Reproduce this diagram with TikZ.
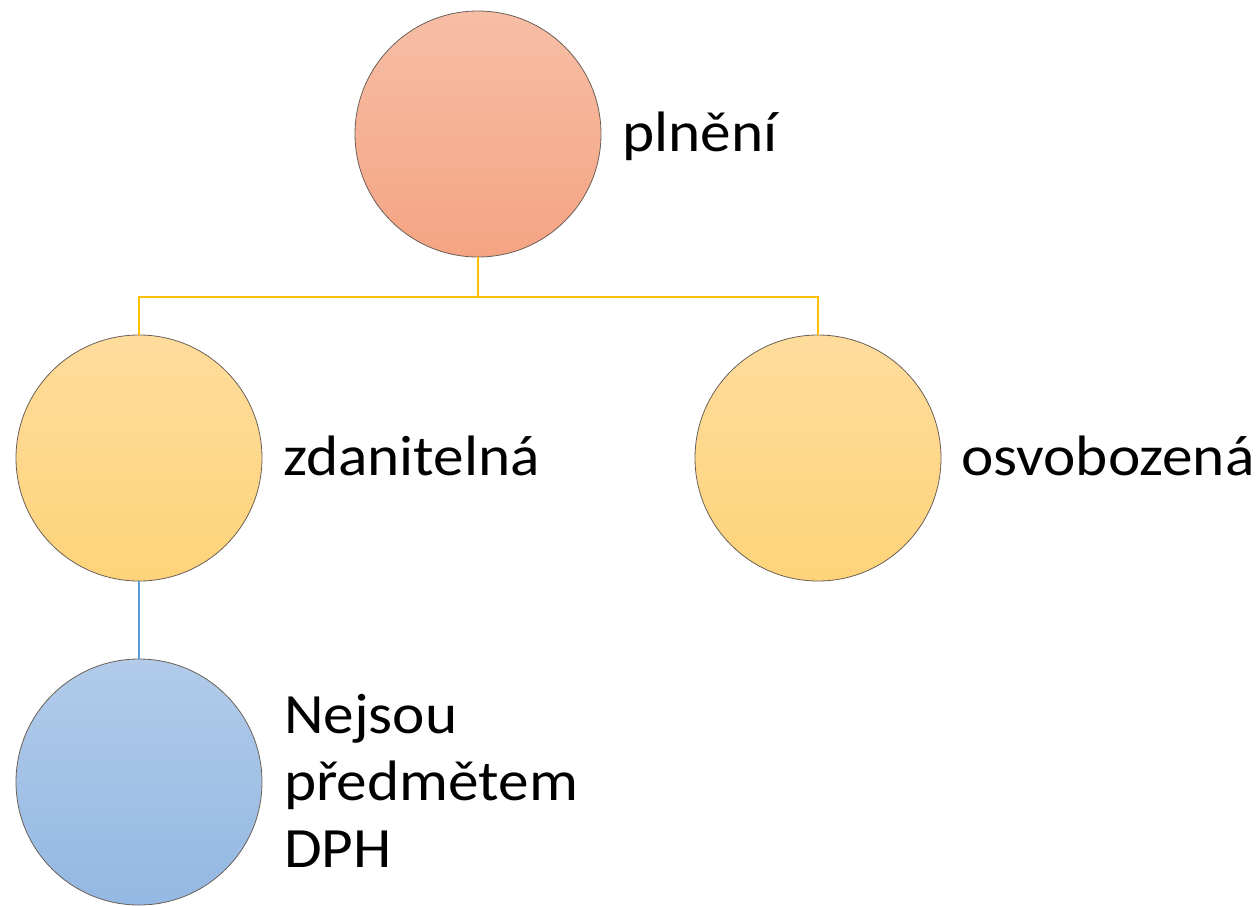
\documentclass[tikz,border=0pt]{standalone}
\usepackage{fontspec}
\setmainfont[FakeStretch=1.075]{Carlito}
\definecolor{redtop}{HTML}{F6BEA5}
\definecolor{redbot}{HTML}{F5A483}
\definecolor{yeltop}{HTML}{FEDC9C}
\definecolor{yelbot}{HTML}{FED379}
\definecolor{bluetop}{HTML}{B2CBE9}
\definecolor{bluebot}{HTML}{93B8E3}
\definecolor{yline}{HTML}{FFC000}
\definecolor{bline}{HTML}{5B9BD5}
\definecolor{rim}{HTML}{6B6058}
\tikzset{
  bubble/.style={circle, draw=rim, line width=0.8pt, minimum size=246pt, inner sep=0pt},
  redb/.style={bubble, top color=redtop, bottom color=redbot},
  yelb/.style={bubble, top color=yeltop, bottom color=yelbot},
  blueb/.style={bubble, top color=bluetop, bottom color=bluebot},
  lbl/.style={anchor=base west, inner sep=0pt, font=\fontsize{57}{67}\selectfont, align=left},
  yconn/.style={draw=yline, line width=2.2pt},
  bconn/.style={draw=bline, line width=1.8pt}
}
\begin{document}
\begin{tikzpicture}[x=1pt,y=-1pt]
\useasboundingbox (0,0) rectangle (1260,905);
\node[redb] (top) at (478,134) {};
\node[yelb] (zd) at (139,458) {};
\node[yelb] (os) at (818,458) {};
\node[blueb] (nd) at (139,782) {};
\coordinate (bus) at (478,297);
\draw[yconn] (top.south) -- (bus) -| (zd.north);
\draw[yconn] (bus) -| (os.north);
\draw[bconn] (zd.south) -- (nd.north);
\node[lbl] (t1) at (622,151) {plnění};
\node[lbl] (t2) at (283,475) {zdanitelná};
\node[lbl] (t3) at (961,475) {osvobozená};
\node[lbl] (t4) at (284,867) {Nejsou\\předmětem\\DPH};
\end{tikzpicture}
\end{document}
